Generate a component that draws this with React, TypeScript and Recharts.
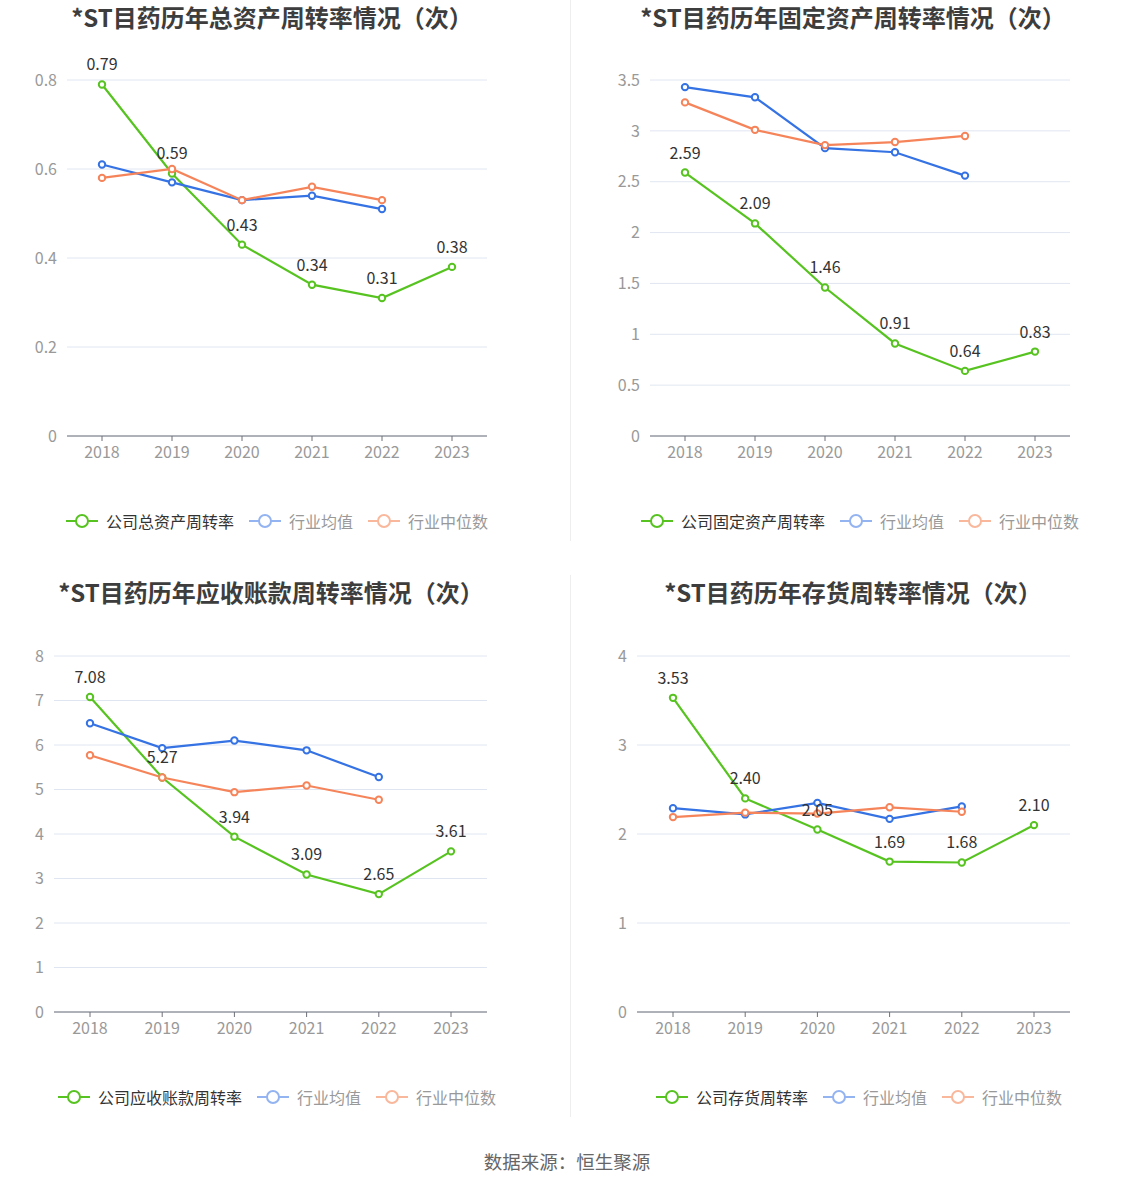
import React from 'react';
import { LineChart, Line, XAxis, YAxis, CartesianGrid, LabelList } from 'recharts';

const years = ['2018', '2019', '2020', '2021', '2022', '2023'];

// 总资产周转率
const totalCompany = [0.79, 0.59, 0.43, 0.34, 0.31, 0.38];
const totalAvg = [0.61, 0.57, 0.53, 0.54, 0.51, null];
const totalMedian = [0.58, 0.6, 0.53, 0.56, 0.53, null];

// 固定资产周转率
const fixedCompany = [2.59, 2.09, 1.46, 0.91, 0.64, 0.83];
const fixedAvg = [3.43, 3.33, 2.83, 2.79, 2.56, null];
const fixedMedian = [3.28, 3.01, 2.86, 2.89, 2.95, null];

// 应收账款周转率
const recvCompany = [7.08, 5.27, 3.94, 3.09, 2.65, 3.61];
const recvAvg = [6.49, 5.93, 6.1, 5.88, 5.28, null];
const recvMedian = [5.77, 5.27, 4.94, 5.09, 4.77, null];

// 存货周转率
const invCompany = [3.53, 2.4, 2.05, 1.69, 1.68, 2.1];
const invAvg = [2.29, 2.22, 2.35, 2.17, 2.31, null];
const invMedian = [2.19, 2.24, 2.23, 2.3, 2.25, null];

const COLORS = {
	company: '#57c320',
	avg: '#3572e3',
	median: '#f6845a',
	avgLight: '#93b3f1',
	medianLight: '#f9b79b',
	grid: '#e0e6f1',
	axis: '#6e7079',
	tick: '#999',
	title: '#3d3d3d',
};

const FONT = "'Noto Sans CJK SC', 'Noto Sans', sans-serif";

const build = (c: (number | null)[], a: (number | null)[], m: (number | null)[]) =>
	years.map((year, i) => ({ year, company: c[i], avg: a[i], median: m[i] }));

interface PanelProps {
	title: string;
	companyName: string;
	data: ReturnType<typeof build>;
	domain: [number, number];
	ticks: number[];
	left: number;
	plotTop: number;
	titleTop: number;
	marginLeft: number;
	marginRight: number;
	pad: number;
	titleX: number;
	legendX: number;
}

function LegendIcon({ color }: { color: string }) {
	return (
		<svg width={32} height={16} style={{ marginRight: 8 }}>
			<line x1={0} y1={8} x2={32} y2={8} stroke={color} strokeWidth={2} />
			<circle cx={16} cy={8} r={6} fill="#fff" stroke={color} strokeWidth={2} />
		</svg>
	);
}

function Panel(p: PanelProps) {
	const dot = (color: string) => ({ r: 3.2, strokeWidth: 2, fill: '#fff', stroke: color });
	return (
		<>
			<div
				style={{
					position: 'absolute',
					left: p.titleX - 260,
					width: 520,
					top: p.titleTop,
					textAlign: 'center',
					fontSize: 24,
					fontWeight: 'bold',
					color: COLORS.title,
					lineHeight: '24px',
				}}
			>
				{p.title}
			</div>
			<div style={{ position: 'absolute', left: p.left, top: p.plotTop - 40 }}>
				<LineChart
					width={567}
					height={440}
					data={p.data}
					margin={{ top: 40, right: p.marginRight, left: p.marginLeft, bottom: 14 }}
				>
					<CartesianGrid vertical={false} stroke={COLORS.grid} />
					<XAxis
						dataKey="year"
						height={30}
						padding={{ left: p.pad, right: p.pad }}
						axisLine={{ stroke: COLORS.axis }}
						tickLine={{ stroke: COLORS.axis }}
						tickSize={5}
						tickMargin={6}
						tick={{ fill: COLORS.tick, fontSize: 16 }}
					/>
					<YAxis
						width={40}
						domain={p.domain}
						ticks={p.ticks}
						axisLine={false}
						tickLine={false}
						tickMargin={4}
						tick={{ fill: COLORS.tick, fontSize: 16 }}
					/>
					<Line
						dataKey="company"
						stroke={COLORS.company}
						strokeWidth={2.2}
						dot={dot(COLORS.company)}
						activeDot={false}
						isAnimationActive={false}
					>
						<LabelList
							dataKey="company"
							position="top"
							offset={14}
							fill="#333"
							fontSize={16}
							formatter={(v: number) => v.toFixed(2)}
						/>
					</Line>
					<Line
						dataKey="avg"
						stroke={COLORS.avg}
						strokeWidth={2.2}
						dot={dot(COLORS.avg)}
						activeDot={false}
						isAnimationActive={false}
					/>
					<Line
						dataKey="median"
						stroke={COLORS.median}
						strokeWidth={2.2}
						dot={dot(COLORS.median)}
						activeDot={false}
						isAnimationActive={false}
					/>
				</LineChart>
			</div>
			<div
				style={{
					position: 'absolute',
					left: p.legendX - 300,
					width: 600,
					top: p.plotTop + 432,
					display: 'flex',
					justifyContent: 'center',
					alignItems: 'center',
					fontSize: 16,
					lineHeight: '18px',
				}}
			>
				<LegendIcon color={COLORS.company} />
				<span style={{ color: '#333', marginRight: 15 }}>{p.companyName}</span>
				<LegendIcon color={COLORS.avgLight} />
				<span style={{ color: COLORS.tick, marginRight: 15 }}>行业均值</span>
				<LegendIcon color={COLORS.medianLight} />
				<span style={{ color: COLORS.tick }}>行业中位数</span>
			</div>
		</>
	);
}

export default function App() {
	return (
		<div
			style={{
				position: 'absolute',
				left: 0,
				top: 0,
				width: 1134,
				height: 1188,
				background: '#fff',
				fontFamily: FONT,
				overflow: 'hidden',
			}}
		>
			<div style={{ position: 'absolute', left: 570, top: 0, width: 1, height: 541, background: '#eeeeee' }} />
			<div style={{ position: 'absolute', left: 570, top: 575, width: 1, height: 542, background: '#eeeeee' }} />

			<Panel
				title="*ST目药历年总资产周转率情况（次）"
				companyName="公司总资产周转率"
				data={build(totalCompany, totalAvg, totalMedian)}
				domain={[0, 0.8]}
				ticks={[0, 0.2, 0.4, 0.6, 0.8]}
				left={0}
				plotTop={80}
				titleTop={5}
				marginLeft={27}
				marginRight={80}
				pad={35}
				titleX={272}
				legendX={277}
			/>
			<Panel
				title="*ST目药历年固定资产周转率情况（次）"
				companyName="公司固定资产周转率"
				data={build(fixedCompany, fixedAvg, fixedMedian)}
				domain={[0, 3.5]}
				ticks={[0, 0.5, 1, 1.5, 2, 2.5, 3, 3.5]}
				left={567}
				plotTop={80}
				titleTop={5}
				marginLeft={43}
				marginRight={64}
				pad={35}
				titleX={853}
				legendX={860}
			/>
			<Panel
				title="*ST目药历年应收账款周转率情况（次）"
				companyName="公司应收账款周转率"
				data={build(recvCompany, recvAvg, recvMedian)}
				domain={[0, 8]}
				ticks={[0, 1, 2, 3, 4, 5, 6, 7, 8]}
				left={0}
				plotTop={656}
				titleTop={580}
				marginLeft={14}
				marginRight={80}
				pad={36}
				titleX={271}
				legendX={277}
			/>
			<Panel
				title="*ST目药历年存货周转率情况（次）"
				companyName="公司存货周转率"
				data={build(invCompany, invAvg, invMedian)}
				domain={[0, 4]}
				ticks={[0, 1, 2, 3, 4]}
				left={567}
				plotTop={656}
				titleTop={580}
				marginLeft={30}
				marginRight={64}
				pad={36}
				titleX={853}
				legendX={859}
			/>

			<div
				style={{
					position: 'absolute',
					left: 0,
					width: 1134,
					top: 1149,
					textAlign: 'center',
					fontSize: 18.5,
					color: '#666',
					lineHeight: '24px',
				}}
			>
				数据来源：恒生聚源
			</div>
		</div>
	);
}
